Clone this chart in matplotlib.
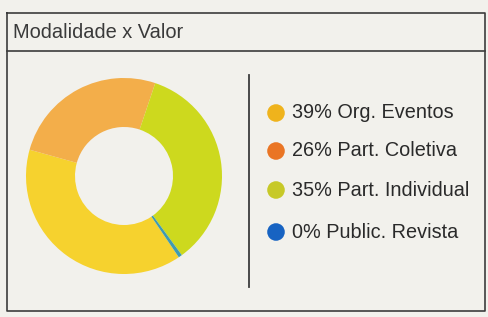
import matplotlib.pyplot as plt

plt.rcParams["font.family"] = ["Liberation Sans", "DejaVu Sans"]

# data
title = "Modalidade x Valor"
labels = ["Org. Eventos", "Part. Coletiva", "Part. Individual", "Public. Revista"]
shares = [39, 26, 35, 0]          # percent shown in legend
values = [39, 26, 35, 0.6]        # slice sizes (revista is a sliver)
ring_colors = ["#f6d22e", "#f3ae4a", "#cdd91e", "#3f9bb0"]
dot_colors = ["#efb31c", "#ea7524", "#c7c928", "#1763c2"]

W, H = 488, 317
bg = "#f2f1ec"
edge = "#3c3c3c"

fig = plt.figure(figsize=(W / 100, H / 100), dpi=100, facecolor=bg)

# overlay axes in pixel units (y pointing down)
ax = fig.add_axes([0, 0, 1, 1])
ax.set_xlim(0, W)
ax.set_ylim(H, 0)
ax.axis("off")

# frame + header line
ax.plot([7, 485, 485, 7, 7], [13, 13, 311, 311, 13], color=edge, lw=1.2)
ax.plot([7, 485], [51, 51], color=edge, lw=1.2)
ax.text(13, 33, title, fontsize=14.4, color="#3a3a3a", va="center", ha="left")

# divider
ax.plot([249, 249], [75, 287], color=edge, lw=1.3)

# legend
rows = [113, 151, 190, 232]
for y, lab, pct, c in zip(rows, labels, shares, dot_colors):
    ax.scatter([276], [y], s=160, color=c, edgecolors="none", zorder=3)
    ax.text(292, y, "%d%% %s" % (pct, lab), fontsize=14.3, color="#2a2a2a",
            va="center", ha="left")

# donut
cx, cy, r = 124, 176, 98
pax = fig.add_axes([(cx - r) / W, (H - cy - r) / H, 2 * r / W, 2 * r / H])
pax.pie(values, colors=ring_colors, startangle=-56, counterclock=False,
        radius=1.0, wedgeprops=dict(width=0.5, edgecolor="none"))
pax.set_xlim(-1, 1)
pax.set_ylim(-1, 1)
pax.axis("off")

fig.savefig("out.png", dpi=100, facecolor=bg)
